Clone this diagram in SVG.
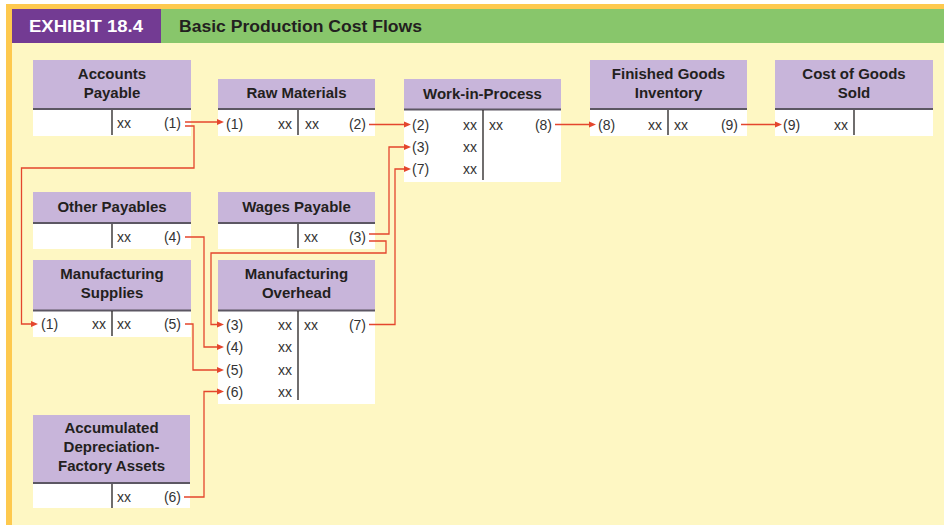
<svg xmlns="http://www.w3.org/2000/svg" xmlns:xlink="http://www.w3.org/1999/xlink" width="944" height="525" viewBox="0 0 944 525">
  <defs>
    <style>
      .hdr { fill: #C8B5DA; }
      .body { fill: #FFFFFF; }
      .rule { stroke: #5C5763; stroke-width: 2; }
      .div { stroke: #231F20; stroke-width: 1.3; }
      .ttl { font-family: "Liberation Sans", Arial, sans-serif; font-weight: bold; font-size: 15px; fill: #231F20; text-anchor: middle; }
      .ent { font-family: "Liberation Sans", Arial, sans-serif; font-size: 14px; fill: #333333; }
      .end { text-anchor: end; }
      .flow { fill: none; stroke: #E4462D; stroke-width: 1.3; }
      .head { fill: #E4462D; stroke: none; }
    </style>
    <!-- right-pointing arrowhead, tip at the origin -->
    <path id="ah" d="M-7,-3 L0,0 L-7,3 z"/>
  </defs>

  <!-- page background and exhibit banner -->
  <rect x="0" y="0" width="944" height="525" fill="#FFFFFF"/>
  <rect x="6" y="4" width="938" height="521" fill="#FEC94E"/>
  <rect x="12" y="9" width="932" height="516" fill="#FEF7C3"/>
  <rect x="12" y="9" width="149" height="34" fill="#733B93"/>
  <rect x="161" y="9" width="783" height="34" fill="#88C66B"/>
  <text x="29" y="32" font-family="Liberation Sans, Arial, sans-serif" font-weight="bold" font-size="16" fill="#FFFFFF" textLength="114" lengthAdjust="spacingAndGlyphs">EXHIBIT 18.4</text>
  <text x="179" y="32" font-family="Liberation Sans, Arial, sans-serif" font-weight="bold" font-size="16" fill="#231F20" textLength="243" lengthAdjust="spacingAndGlyphs">Basic Production Cost Flows</text>

  <g id="accounts-payable">
    <rect class="hdr" x="33" y="60" width="158" height="49"/>
    <rect class="body" x="33" y="109" width="158" height="27"/>
    <line class="rule" x1="33" y1="109" x2="191" y2="109"/>
    <line class="div" x1="112" y1="110" x2="112" y2="135"/>
    <text class="ttl" x="112" y="79">Accounts</text>
    <text class="ttl" x="112" y="98">Payable</text>
    <text class="ent" x="117" y="128">xx</text>
    <text class="ent end" x="181" y="128">(1)</text>
  </g>

  <g id="raw-materials">
    <rect class="hdr" x="218" y="79" width="157" height="30"/>
    <rect class="body" x="218" y="109" width="157" height="27"/>
    <line class="rule" x1="218" y1="109" x2="375" y2="109"/>
    <line class="div" x1="298" y1="110" x2="298" y2="135"/>
    <text class="ttl" x="296.5" y="98">Raw Materials</text>
    <text class="ent" x="226" y="129">(1)</text>
    <text class="ent end" x="292" y="129">xx</text>
    <text class="ent" x="305" y="129">xx</text>
    <text class="ent end" x="366" y="129">(2)</text>
  </g>

  <g id="work-in-process">
    <rect class="hdr" x="404" y="79" width="157" height="30"/>
    <rect class="body" x="404" y="109" width="157" height="73"/>
    <line class="rule" x1="404" y1="109.5" x2="561" y2="109.5"/>
    <line class="div" x1="483" y1="110" x2="483" y2="180"/>
    <text class="ttl" x="482.5" y="99">Work-in-Process</text>
    <text class="ent" x="412" y="129.5">(2)</text>
    <text class="ent end" x="477" y="129.5">xx</text>
    <text class="ent" x="489" y="129.5">xx</text>
    <text class="ent end" x="552" y="129.5">(8)</text>
    <text class="ent" x="412" y="151.5">(3)</text>
    <text class="ent end" x="477" y="151.5">xx</text>
    <text class="ent" x="412" y="174">(7)</text>
    <text class="ent end" x="477" y="174">xx</text>
  </g>

  <g id="finished-goods-inventory">
    <rect class="hdr" x="590" y="60" width="157" height="49"/>
    <rect class="body" x="590" y="109" width="157" height="27"/>
    <line class="rule" x1="590" y1="109" x2="747" y2="109"/>
    <line class="div" x1="668" y1="110" x2="668" y2="135"/>
    <text class="ttl" x="668.5" y="79">Finished Goods</text>
    <text class="ttl" x="668.5" y="98">Inventory</text>
    <text class="ent" x="598" y="129.5">(8)</text>
    <text class="ent end" x="662" y="129.5">xx</text>
    <text class="ent" x="674" y="129.5">xx</text>
    <text class="ent end" x="738" y="129.5">(9)</text>
  </g>

  <g id="cost-of-goods-sold">
    <rect class="hdr" x="775" y="60" width="158" height="49"/>
    <rect class="body" x="775" y="109" width="158" height="27"/>
    <line class="rule" x1="775" y1="109" x2="933" y2="109"/>
    <line class="div" x1="854" y1="110" x2="854" y2="135"/>
    <text class="ttl" x="854" y="79">Cost of Goods</text>
    <text class="ttl" x="854" y="98">Sold</text>
    <text class="ent" x="783" y="129.5">(9)</text>
    <text class="ent end" x="848" y="129.5">xx</text>
  </g>

  <g id="other-payables">
    <rect class="hdr" x="33" y="192" width="158" height="31"/>
    <rect class="body" x="33" y="223" width="158" height="26"/>
    <line class="rule" x1="33" y1="223" x2="191" y2="223"/>
    <line class="div" x1="112" y1="224" x2="112" y2="248"/>
    <text class="ttl" x="112" y="212">Other Payables</text>
    <text class="ent" x="117" y="242">xx</text>
    <text class="ent end" x="181" y="242">(4)</text>
  </g>

  <g id="wages-payable">
    <rect class="hdr" x="218" y="192" width="157" height="31"/>
    <rect class="body" x="218" y="223" width="157" height="26"/>
    <line class="rule" x1="218" y1="223" x2="375" y2="223"/>
    <line class="div" x1="298" y1="224" x2="298" y2="248"/>
    <text class="ttl" x="296.5" y="212">Wages Payable</text>
    <text class="ent" x="304" y="242">xx</text>
    <text class="ent end" x="366" y="242">(3)</text>
  </g>

  <g id="manufacturing-supplies">
    <rect class="hdr" x="33" y="260" width="158" height="50.5"/>
    <rect class="body" x="33" y="310.5" width="158" height="26.5"/>
    <line class="rule" x1="33" y1="310.5" x2="191" y2="310.5"/>
    <line class="div" x1="112" y1="311" x2="112" y2="336"/>
    <text class="ttl" x="112" y="279">Manufacturing</text>
    <text class="ttl" x="112" y="298">Supplies</text>
    <text class="ent" x="41" y="329">(1)</text>
    <text class="ent end" x="106" y="329">xx</text>
    <text class="ent" x="117" y="329">xx</text>
    <text class="ent end" x="181" y="329">(5)</text>
  </g>

  <g id="manufacturing-overhead">
    <rect class="hdr" x="218" y="260" width="157" height="50.5"/>
    <rect class="body" x="218" y="310.5" width="157" height="93.5"/>
    <line class="rule" x1="218" y1="310.5" x2="375" y2="310.5"/>
    <line class="div" x1="298" y1="311" x2="298" y2="400"/>
    <text class="ttl" x="296.5" y="279">Manufacturing</text>
    <text class="ttl" x="296.5" y="298">Overhead</text>
    <text class="ent" x="226" y="329.5">(3)</text>
    <text class="ent end" x="292" y="329.5">xx</text>
    <text class="ent" x="304" y="329.5">xx</text>
    <text class="ent end" x="366" y="329.5">(7)</text>
    <text class="ent" x="226" y="352">(4)</text>
    <text class="ent end" x="292" y="352">xx</text>
    <text class="ent" x="226" y="374.5">(5)</text>
    <text class="ent end" x="292" y="374.5">xx</text>
    <text class="ent" x="226" y="396.5">(6)</text>
    <text class="ent end" x="292" y="396.5">xx</text>
  </g>

  <g id="accumulated-depreciation">
    <rect class="hdr" x="33" y="415" width="157" height="68"/>
    <rect class="body" x="33" y="483" width="157" height="25"/>
    <line class="rule" x1="33" y1="483" x2="190" y2="483"/>
    <line class="div" x1="112" y1="484" x2="112" y2="508"/>
    <text class="ttl" x="111.5" y="433">Accumulated</text>
    <text class="ttl" x="111.5" y="452">Depreciation-</text>
    <text class="ttl" x="111.5" y="471">Factory Assets</text>
    <text class="ent" x="117" y="502">xx</text>
    <text class="ent end" x="181" y="502">(6)</text>
  </g>

  <!-- flows between accounts, drawn over the boxes so the heads show -->
  <g id="connectors">
    <path class="flow" d="M185 122 H218"/>
    <path class="flow" d="M185 126 H194 V168 H21.5 V324 H32"/>
    <path class="flow" d="M369 124.5 H405"/>
    <path class="flow" d="M369 234 H389 V147 H405"/>
    <path class="flow" d="M369 241 H386 V253 H211 V324.5 H218"/>
    <path class="flow" d="M185 237 H204 V347 H218"/>
    <path class="flow" d="M185 324 H193 V370 H218"/>
    <path class="flow" d="M184 497 H204 V391.5 H218"/>
    <path class="flow" d="M369 324.5 H395 V169 H405"/>
    <path class="flow" d="M555 124.5 H590"/>
    <path class="flow" d="M741 124.5 H776"/>
    <g class="head">
      <use xlink:href="#ah" x="224" y="122"/>
      <use xlink:href="#ah" x="38" y="324"/>
      <use xlink:href="#ah" x="411" y="124.5"/>
      <use xlink:href="#ah" x="411" y="147"/>
      <use xlink:href="#ah" x="224" y="324.5"/>
      <use xlink:href="#ah" x="224" y="347"/>
      <use xlink:href="#ah" x="224" y="370"/>
      <use xlink:href="#ah" x="224" y="391.5"/>
      <use xlink:href="#ah" x="411" y="169"/>
      <use xlink:href="#ah" x="596" y="124.5"/>
      <use xlink:href="#ah" x="782" y="124.5"/>
    </g>
  </g>
</svg>
